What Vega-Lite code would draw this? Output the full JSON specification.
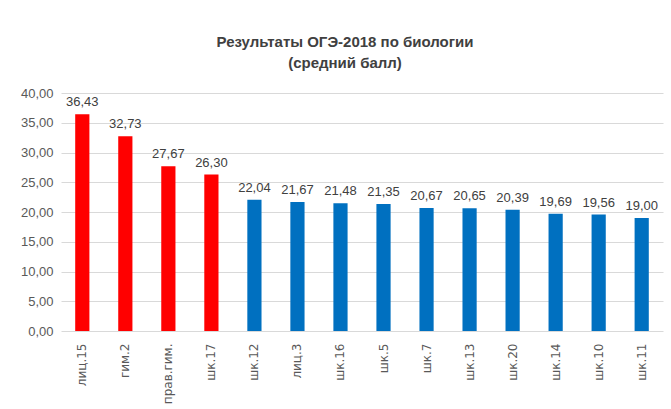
{
  "$schema": "https://vega.github.io/schema/vega-lite/v6.json",
  "autosize": "none",
  "width": 602,
  "height": 238,
  "padding": {"left": 61, "top": 93, "right": 8, "bottom": 78},
  "background": "white",
  "config": {
    "locale": {"number": {"decimal": ",", "thousands": " ", "grouping": [3], "currency": ["", " ₽"]}},
    "font": "Liberation Sans, sans-serif",
    "view": {"stroke": null}
  },
  "title": {
    "text": ["Результаты ОГЭ-2018 по биологии", "(средний балл)"],
    "fontSize": 15,
    "fontWeight": "bold",
    "color": "#404040",
    "lineHeight": 21,
    "offset": 16,
    "dx": -17,
    "anchor": "middle"
  },
  "data": {
    "values": [
      {"school": "лиц.15", "score": 36.43, "group": "top"},
      {"school": "гим.2", "score": 32.73, "group": "top"},
      {"school": "прав.гим.", "score": 27.67, "group": "top"},
      {"school": "шк.17", "score": 26.30, "group": "top"},
      {"school": "шк.12", "score": 22.04, "group": "rest"},
      {"school": "лиц.3", "score": 21.67, "group": "rest"},
      {"school": "шк.16", "score": 21.48, "group": "rest"},
      {"school": "шк.5", "score": 21.35, "group": "rest"},
      {"school": "шк.7", "score": 20.67, "group": "rest"},
      {"school": "шк.13", "score": 20.65, "group": "rest"},
      {"school": "шк.20", "score": 20.39, "group": "rest"},
      {"school": "шк.14", "score": 19.69, "group": "rest"},
      {"school": "шк.10", "score": 19.56, "group": "rest"},
      {"school": "шк.11", "score": 19.00, "group": "rest"}
    ]
  },
  "encoding": {
    "x": {
      "field": "school", "type": "nominal", "sort": null,
      "scale": {"paddingInner": 0.67, "paddingOuter": 0.33},
      "axis": {
        "title": null, "labelAngle": -90, "labelFontSize": 12, "labelColor": "#595959",
        "labelFont": "DejaVu Sans, sans-serif",
        "ticks": false, "domain": false, "labelPadding": 12
      }
    },
    "y": {
      "field": "score", "type": "quantitative",
      "scale": {"domain": [0, 40]},
      "axis": {
        "title": null, "values": [0, 5, 10, 15, 20, 25, 30, 35, 40], "format": ".2f",
        "labelFontSize": 13, "labelColor": "#595959", "ticks": false, "domain": false,
        "gridColor": "#d9d9d9", "gridWidth": 1, "labelPadding": 8
      }
    }
  },
  "layer": [
    {
      "mark": {"type": "bar"},
      "encoding": {
        "color": {
          "field": "group", "type": "nominal",
          "scale": {"domain": ["top", "rest"], "range": ["#ff0000", "#0070c0"]},
          "legend": null
        }
      }
    },
    {
      "mark": {"type": "text", "dy": -12, "fontSize": 13, "color": "#404040"},
      "encoding": {"text": {"field": "score", "type": "quantitative", "format": ".2f"}}
    }
  ]
}
